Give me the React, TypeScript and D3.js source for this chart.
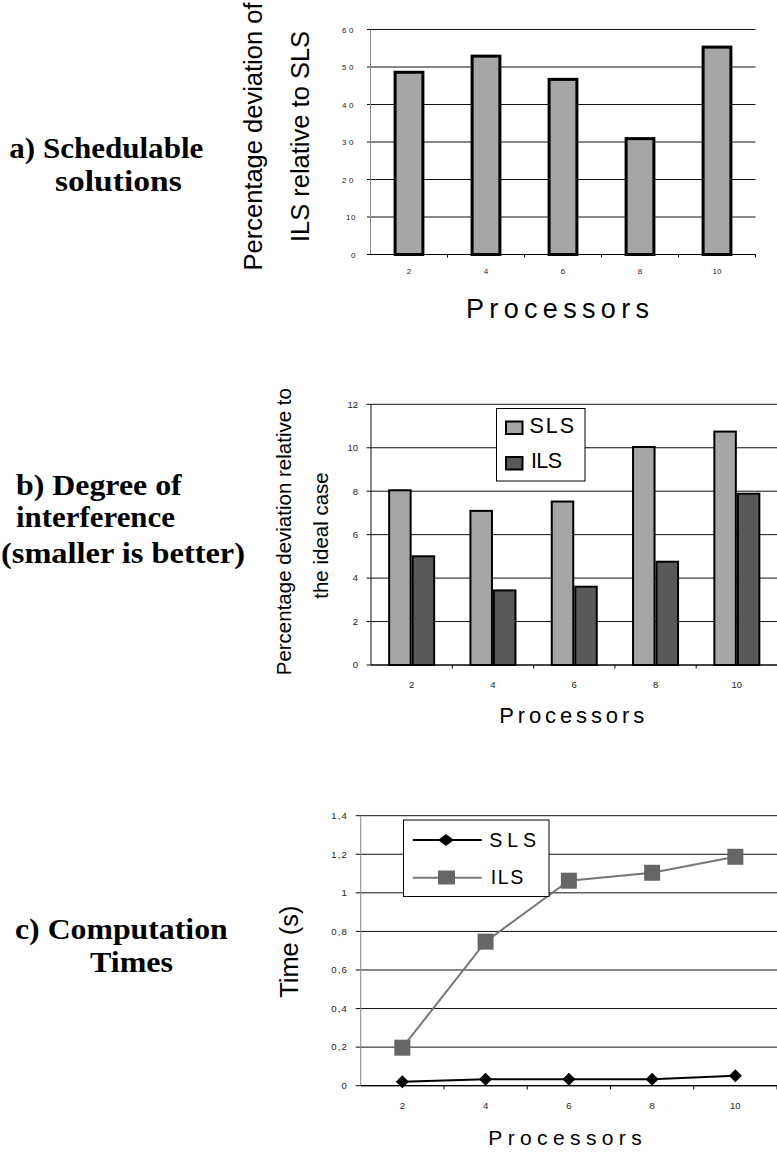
import React from "react";
import * as d3 from "d3";

const categories = ["2", "4", "6", "8", "10"];
const deviationILSvsSLS = [49.0, 53.3, 47.1, 31.3, 55.7];
const interfSLS = [8.09, 7.14, 7.57, 10.08, 10.79];
const interfILS = [5.05, 3.48, 3.65, 4.8, 7.93];
const timeSLS = [0.021, 0.033, 0.033, 0.033, 0.052];
const timeILS = [0.197, 0.747, 1.063, 1.104, 1.187];
const ticksA = [0, 10, 20, 30, 40, 50, 60];
const ticksB = [0, 2, 4, 6, 8, 10, 12];
const ticksC = [0, 0.2, 0.4, 0.6, 0.8, 1, 1.2, 1.4];

const SANS = "'Liberation Sans', Arial, sans-serif";
const SERIF = "'Liberation Serif', 'Times New Roman', serif";
const LIGHT = "#a6a6a6";
const DARK = "#595959";

function commaFmt(v: number) {
  return String(+v.toFixed(1)).replace(".", ",");
}

function ChartA() {
  const x = d3.scaleBand<string>().domain(categories).range([370.5, 755.5]).padding(0);
  const y = d3.scaleLinear().domain([0, 60]).range([254.5, 29.5]);
  const bw = x.bandwidth();
  const barW = bw * 0.4 - 3;
  return (
    <g>
      {ticksA.map((t) => (
        <g key={t}>
          <line x1={367} x2={755.5} y1={y(t)} y2={y(t)} stroke="#111" strokeWidth={1} />
          <text x={356} y={y(t) + 3} fontSize={8} fontFamily={SANS} textAnchor="end" letterSpacing={t >= 20 ? 2.5 : 0.5} fill="#222">
            {t}
          </text>
        </g>
      ))}
      <line x1={370.5} x2={370.5} y1={29.5} y2={254.5} stroke="#888" strokeWidth={1} />
      {categories.map((c, i) => (
        <rect
          key={c}
          x={(x(c) as number) + bw / 2 - barW / 2}
          y={y(deviationILSvsSLS[i]) + 1.5}
          width={barW}
          height={y(0) - y(deviationILSvsSLS[i]) - 1.5}
          fill={LIGHT}
          stroke="#000"
          strokeWidth={3}
        />
      ))}
      <line x1={370.5} x2={755.5} y1={254.5} y2={254.5} stroke="#000" strokeWidth={1.2} />
      {categories.map((c) => (
        <line key={"t" + c} x1={(x(c) as number) + bw} x2={(x(c) as number) + bw} y1={254.5} y2={257.5} stroke="#000" />
      ))}
      {categories.map((c) => (
        <text key={"l" + c} x={(x(c) as number) + bw / 2} y={273.5} fontSize={8} fontFamily={SANS} textAnchor="middle" fill="#222">
          {c}
        </text>
      ))}
      <text x={466} y={318.3} fontSize={27} fontFamily={SANS} textLength={183} lengthAdjust="spacing">
        Processors
      </text>
      <text transform="translate(262,136.5) rotate(-90)" fontSize={25.5} fontFamily={SANS} textAnchor="middle">
        Percentage deviation of
      </text>
      <text transform="translate(309,136.5) rotate(-90)" fontSize={25.5} fontFamily={SANS} textAnchor="middle">
        ILS relative to SLS
      </text>
    </g>
  );
}

function ChartB() {
  const x = d3.scaleBand<string>().domain(categories).range([371, 777.5]).padding(0);
  const y = d3.scaleLinear().domain([0, 12]).range([665, 404.3]);
  const bw = x.bandwidth();
  const w = 21.5;
  return (
    <g>
      {ticksB.map((t) => (
        <g key={t}>
          <line x1={366.5} x2={777} y1={y(t)} y2={y(t)} stroke="#111" strokeWidth={1} />
          <text x={358} y={y(t) + 3.3} fontSize={9.5} fontFamily={SANS} textAnchor="end" fill="#222">
            {t}
          </text>
        </g>
      ))}
      <line x1={371} x2={371} y1={404.3} y2={665} stroke="#111" strokeWidth={1} />
      {categories.map((c, i) => {
        const cx = (x(c) as number) + bw / 2;
        return (
          <g key={c}>
            <rect x={cx - w - 1} y={y(interfSLS[i]) + 1} width={w} height={y(0) - y(interfSLS[i]) - 1} fill={LIGHT} stroke="#000" strokeWidth={2} />
            <rect x={cx + 1} y={y(interfILS[i]) + 1} width={w} height={y(0) - y(interfILS[i]) - 1} fill={DARK} stroke="#000" strokeWidth={2} />
          </g>
        );
      })}
      <line x1={371} x2={777} y1={665} y2={665} stroke="#000" strokeWidth={1.2} />
      {categories.map((c) => (
        <line key={"t" + c} x1={(x(c) as number) + bw} x2={(x(c) as number) + bw} y1={665} y2={668.5} stroke="#000" />
      ))}
      {categories.map((c) => (
        <text key={"l" + c} x={(x(c) as number) + bw / 2} y={688} fontSize={9.5} fontFamily={SANS} textAnchor="middle" fill="#222">
          {c}
        </text>
      ))}
      <rect x={496.5} y={408.5} width={88.5} height={72.5} fill="#fff" stroke="#000" strokeWidth={1} />
      <rect x={506} y={421.5} width={16.5} height={12.5} fill={LIGHT} stroke="#000" strokeWidth={2} />
      <text x={529.5} y={432.7} fontSize={21.5} fontFamily={SANS} textLength={44.5} lengthAdjust="spacing">
        SLS
      </text>
      <rect x={506} y={457} width={16.5} height={12.5} fill={DARK} stroke="#000" strokeWidth={2} />
      <text x={531} y={468.3} fontSize={21.5} fontFamily={SANS} textLength={31} lengthAdjust="spacing">
        ILS
      </text>
      <text x={499.2} y={722.7} fontSize={22} fontFamily={SANS} textLength={145} lengthAdjust="spacing">
        Processors
      </text>
      <text transform="translate(291,531.7) rotate(-90)" fontSize={20.5} fontFamily={SANS} textAnchor="middle">
        Percentage deviation relative to
      </text>
      <text transform="translate(328,535.5) rotate(-90)" fontSize={20.5} fontFamily={SANS} textAnchor="middle">
        the ideal case
      </text>
    </g>
  );
}

function ChartC() {
  const x = d3.scaleBand<string>().domain(categories).range([360.7, 777]).padding(0);
  const y = d3.scaleLinear().domain([0, 1.4]).range([1085.7, 815.7]);
  const bw = x.bandwidth();
  const cx = (c: string) => (x(c) as number) + bw / 2;
  const line = d3
    .line<number>()
    .x((_, i) => cx(categories[i]))
    .y((d) => y(d));
  const diamond = (px: number, py: number, rw: number, rh: number) =>
    `M${px},${py - rh}L${px + rw},${py}L${px},${py + rh}L${px - rw},${py}Z`;
  return (
    <g>
      {ticksC.map((t) => (
        <g key={t}>
          <line x1={355.7} x2={777} y1={y(t)} y2={y(t)} stroke="#111" strokeWidth={1} />
          <text x={348} y={y(t) + 3.3} fontSize={9.5} fontFamily={SANS} textAnchor="end" letterSpacing={1.2} fill="#222">
            {commaFmt(t)}
          </text>
        </g>
      ))}
      <line x1={360.7} x2={360.7} y1={815.7} y2={1085.7} stroke="#888" strokeWidth={1} />
      <line x1={360.7} x2={777} y1={1085.7} y2={1085.7} stroke="#000" strokeWidth={1.2} />
      {categories.map((c) => (
        <line key={"t" + c} x1={(x(c) as number) + bw} x2={(x(c) as number) + bw} y1={1085.7} y2={1089.5} stroke="#000" />
      ))}
      {categories.map((c) => (
        <text key={"l" + c} x={cx(c)} y={1109.3} fontSize={9.5} fontFamily={SANS} textAnchor="middle" fill="#222">
          {c}
        </text>
      ))}
      <path d={line(timeILS) || ""} fill="none" stroke="#777" strokeWidth={2} />
      {timeILS.map((v, i) => (
        <rect key={"s" + i} x={cx(categories[i]) - 8} y={y(v) - 8} width={16} height={16} fill="#666" />
      ))}
      <path d={line(timeSLS) || ""} fill="none" stroke="#000" strokeWidth={2} />
      {timeSLS.map((v, i) => (
        <path key={"d" + i} d={diamond(cx(categories[i]), y(v), 6.5, 6.5)} fill="#000" />
      ))}
      <rect x={403.5} y={820} width={145.5} height={76.5} fill="#fff" stroke="#000" strokeWidth={1} />
      <line x1={412.7} x2={481.7} y1={840} y2={840} stroke="#000" strokeWidth={2} />
      <path d={diamond(446, 840, 8, 6)} fill="#000" />
      <text x={489.3} y={846.7} fontSize={19.5} fontFamily={SANS} textLength={46.7} lengthAdjust="spacing">
        SLS
      </text>
      <line x1={412.7} x2={481.7} y1={877.7} y2={877.7} stroke="#777" strokeWidth={2} />
      <rect x={438} y={870.5} width={17} height={14} fill="#666" />
      <text x={490.7} y={884} fontSize={19.5} fontFamily={SANS} textLength={32.6} lengthAdjust="spacing">
        ILS
      </text>
      <text x={488.3} y={1145} fontSize={21} fontFamily={SANS} textLength={153.4} lengthAdjust="spacing">
        Processors
      </text>
      <text transform="translate(298,951.7) rotate(-90)" fontSize={25.4} fontFamily={SANS} textAnchor="middle">
        Time (s)
      </text>
    </g>
  );
}

function SideLabel({ x, y, len, text }: { x: number; y: number; len: number; text: string }) {
  return (
    <text x={x} y={y} fontSize={29} fontWeight="bold" fontFamily={SERIF} textLength={len} lengthAdjust="spacingAndGlyphs">
      {text}
    </text>
  );
}

export default function App() {
  return (
    <svg width={777} height={1152} style={{ position: "absolute", left: 0, top: 0, background: "#fff" }}>
      <rect x={0} y={0} width={777} height={1152} fill="#fff" />
      <SideLabel x={9.3} y={158.3} len={194} text="a) Schedulable" />
      <SideLabel x={55} y={191} len={126.7} text="solutions" />
      <SideLabel x={16} y={495} len={165.7} text="b) Degree of" />
      <SideLabel x={16} y={526.7} len={159} text="interference" />
      <SideLabel x={1} y={563.3} len={244} text="(smaller is better)" />
      <SideLabel x={15} y={939} len={212.7} text="c) Computation" />
      <SideLabel x={90} y={972} len={83} text="Times" />
      <ChartA />
      <ChartB />
      <ChartC />
    </svg>
  );
}
